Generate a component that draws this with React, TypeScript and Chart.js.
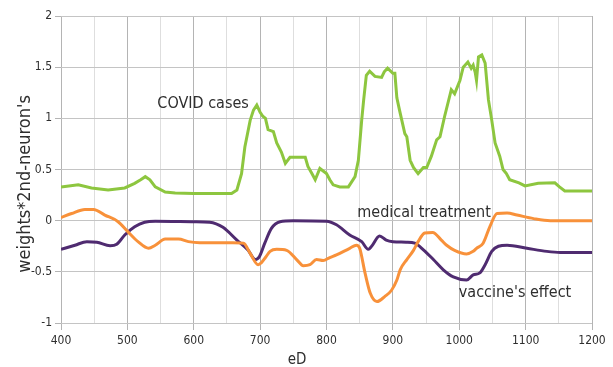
import { useEffect, useRef } from "react";
import { Chart, registerables } from "chart.js";

Chart.register(...registerables);

const FONT = "'DejaVu Sans Condensed', 'DejaVu Sans', sans-serif";
const TEXT = "#2e2e2e";

// Axis ranges and tick steps
const X_TICKS = [400, 1200, 50];
const Y_TICKS = [-1, 2, 0.5];

// COVID cases
const covidX = [
  400, 426, 446, 471, 496, 511, 520, 527, 534, 542,
  557, 572, 600, 630, 657, 665, 672, 677, 685, 690,
  695, 700, 704, 708, 712, 720, 725, 732, 738, 745,
  760, 768, 772, 778, 783, 790, 800, 805, 810, 820,
  833, 843, 848, 853, 856, 860, 865, 873, 883, 887,
  892, 900, 903, 906, 910, 918, 921, 926, 931, 938,
  946, 951, 958, 966, 971, 978, 988, 993, 1001, 1006,
  1013, 1018, 1021, 1024, 1026, 1029, 1034, 1039, 1044, 1049,
  1054, 1061, 1066, 1071, 1076, 1090, 1099, 1119, 1144, 1151,
  1159, 1200,
];
const covidY = [
  0.33, 0.35, 0.32, 0.3, 0.32, 0.365, 0.4, 0.43, 0.4, 0.33,
  0.28, 0.27, 0.265, 0.265, 0.265, 0.3, 0.46, 0.72, 0.98, 1.08,
  1.13, 1.06, 1.02, 1.0, 0.89, 0.87, 0.76, 0.67, 0.56, 0.62,
  0.62, 0.62, 0.53, 0.46, 0.4, 0.51, 0.46, 0.4, 0.35, 0.33,
  0.33, 0.43, 0.59, 0.98, 1.18, 1.42, 1.46, 1.41, 1.4, 1.455,
  1.49, 1.44, 1.44, 1.2, 1.08, 0.85, 0.82, 0.59, 0.52, 0.46,
  0.52, 0.52, 0.63, 0.79, 0.82, 1.02, 1.28, 1.24, 1.37, 1.5,
  1.55, 1.49, 1.52, 1.45, 1.37, 1.6, 1.62, 1.54, 1.18, 0.98,
  0.76, 0.63, 0.5, 0.46, 0.4, 0.37, 0.34, 0.365, 0.37, 0.33,
  0.29, 0.29,
];

// medical treatment
const treatX = [
  400, 416, 436, 449, 466, 486, 501, 516, 532, 542,
  557, 577, 592, 609, 659, 675, 685, 697, 702, 708,
  715, 725, 740, 755, 765, 775, 785, 795, 805, 815,
  835, 845, 850, 858, 866, 876, 888, 898, 906, 911,
  921, 931, 938, 948, 960, 973, 981, 993, 1011, 1021,
  1026, 1036, 1046, 1057, 1072, 1087, 1112, 1137, 1200,
];
const treatY = [
  0.03, 0.07, 0.11, 0.11, 0.055, -0.01, -0.11, -0.205, -0.27, -0.24,
  -0.18, -0.18, -0.205, -0.215, -0.215, -0.22, -0.32, -0.43, -0.41, -0.36,
  -0.3, -0.28, -0.29, -0.38, -0.44, -0.43, -0.38, -0.39, -0.36, -0.335,
  -0.27, -0.24, -0.27, -0.51, -0.71, -0.79, -0.74, -0.68, -0.58, -0.48,
  -0.38, -0.29, -0.205, -0.12, -0.115, -0.19, -0.24, -0.29, -0.325, -0.3,
  -0.27, -0.22, -0.06, 0.07, 0.075, 0.055, 0.02, 0.0, 0.0,
];

// vaccine's effect
const vaccX = [
  400, 421, 439, 454, 474, 484, 496, 511, 526, 542,
  600, 624, 644, 665, 682, 693, 699, 707, 717, 730,
  750, 800, 815, 835, 853, 863, 868, 880, 890, 900,
  920, 933, 946, 961, 976, 991, 1011, 1021, 1031, 1039,
  1049, 1059, 1072, 1102, 1132, 1152, 1200,
];
const vaccY = [
  -0.28, -0.24, -0.205, -0.21, -0.245, -0.23, -0.14, -0.06, -0.016, -0.006,
  -0.01, -0.015, -0.065, -0.19, -0.29, -0.38, -0.35, -0.22, -0.075, -0.01,
  0.0, -0.005, -0.04, -0.14, -0.205, -0.28, -0.25, -0.15, -0.19, -0.205,
  -0.21, -0.22, -0.285, -0.38, -0.48, -0.55, -0.58, -0.53, -0.51, -0.43,
  -0.3, -0.25, -0.24, -0.27, -0.3, -0.31, -0.31,
];

// In-plot series labels: [text, x value, y value]
const seriesLabels: [string, number, number][] = [
  ["COVID cases", 614, 1.14],
  ["medical treatment", 947, 0.075],
  ["vaccine's effect", 1084, -0.71],
];

const X_TITLE = "eD";
const Y_TITLE = "weights*2nd-neuron's";

const toPoints = (xs: number[], ys: number[]) =>
  xs.map((x, i) => ({ x, y: ys[i] }));

const labelPlugin = {
  id: "seriesLabels",
  afterDraw(chart: any) {
    const { ctx, scales } = chart;
    ctx.save();
    ctx.fillStyle = TEXT;
    ctx.textAlign = "center";
    ctx.textBaseline = "middle";
    ctx.font = `16px ${FONT}`;
    for (const [text, x, y] of seriesLabels) {
      ctx.fillText(text, scales.x.getPixelForValue(x), scales.y.getPixelForValue(y));
    }
    ctx.font = `15px ${FONT}`;
    ctx.fillText(X_TITLE, 297, 360);
    ctx.translate(25, 184);
    ctx.rotate(-Math.PI / 2);
    ctx.font = `18px ${FONT}`;
    ctx.fillText(Y_TITLE, 0, 0);
    ctx.restore();
  },
};

export default function App() {
  const ref = useRef<HTMLCanvasElement>(null);

  useEffect(() => {
    document.body.style.margin = "0";
    const isMajor = (v: number) => Math.abs(v % 100) < 1e-6;
    const chart = new Chart(ref.current as HTMLCanvasElement, {
      type: "line",
      data: {
        datasets: [
          {
            label: "COVID cases",
            data: toPoints(covidX, covidY),
            borderColor: "#8dc63f",
            borderWidth: 3,
            pointRadius: 0,
            tension: 0,
          },
          {
            label: "medical treatment",
            data: toPoints(treatX, treatY),
            borderColor: "#f8913a",
            borderWidth: 3,
            pointRadius: 0,
            cubicInterpolationMode: "monotone",
          },
          {
            label: "vaccine's effect",
            data: toPoints(vaccX, vaccY),
            borderColor: "#4f2b70",
            borderWidth: 3,
            pointRadius: 0,
            cubicInterpolationMode: "monotone",
          },
        ],
      },
      options: {
        animation: false,
        responsive: false,
        layout: { padding: { left: 0, right: 21, top: 16, bottom: 0 } },
        plugins: {
          legend: { display: false },
          tooltip: { enabled: false },
        },
        scales: {
          x: {
            type: "linear",
            min: X_TICKS[0],
            max: X_TICKS[1],
            border: { display: false },
            grid: {
              color: (c: any) => (isMajor(c.tick.value) ? "#b4b4b4" : "#dedede"),
              tickColor: (c: any) => (isMajor(c.tick.value) ? "#b4b4b4" : "rgba(0,0,0,0)"),
              tickLength: 7,
              lineWidth: 1,
            },
            ticks: {
              stepSize: X_TICKS[2],
              autoSkip: false,
              maxRotation: 0,
              padding: 4,
              color: TEXT,
              font: { family: FONT, size: 12 },
              callback: (v: any) => (isMajor(Number(v)) ? String(v) : ""),
            },
            afterFit: (s: any) => {
              s.height = 44;
            },
          },
          y: {
            min: Y_TICKS[0],
            max: Y_TICKS[1],
            border: { display: false },
            grid: { color: "#c4c4c4", tickColor: "#b4b4b4", tickLength: 6 },
            ticks: {
              stepSize: Y_TICKS[2],
              padding: 3,
              color: TEXT,
              font: { family: FONT, size: 12 },
              callback: (v: any) => String(Math.round(Number(v) * 10) / 10),
            },
            afterFit: (s: any) => {
              s.width = 61;
            },
          },
        },
      },
      plugins: [labelPlugin],
    });
    return () => chart.destroy();
  }, []);

  return (
    <div style={{ width: 613, height: 367, background: "#fff" }}>
      <canvas ref={ref} width={613} height={367} style={{ display: "block" }} />
    </div>
  );
}
